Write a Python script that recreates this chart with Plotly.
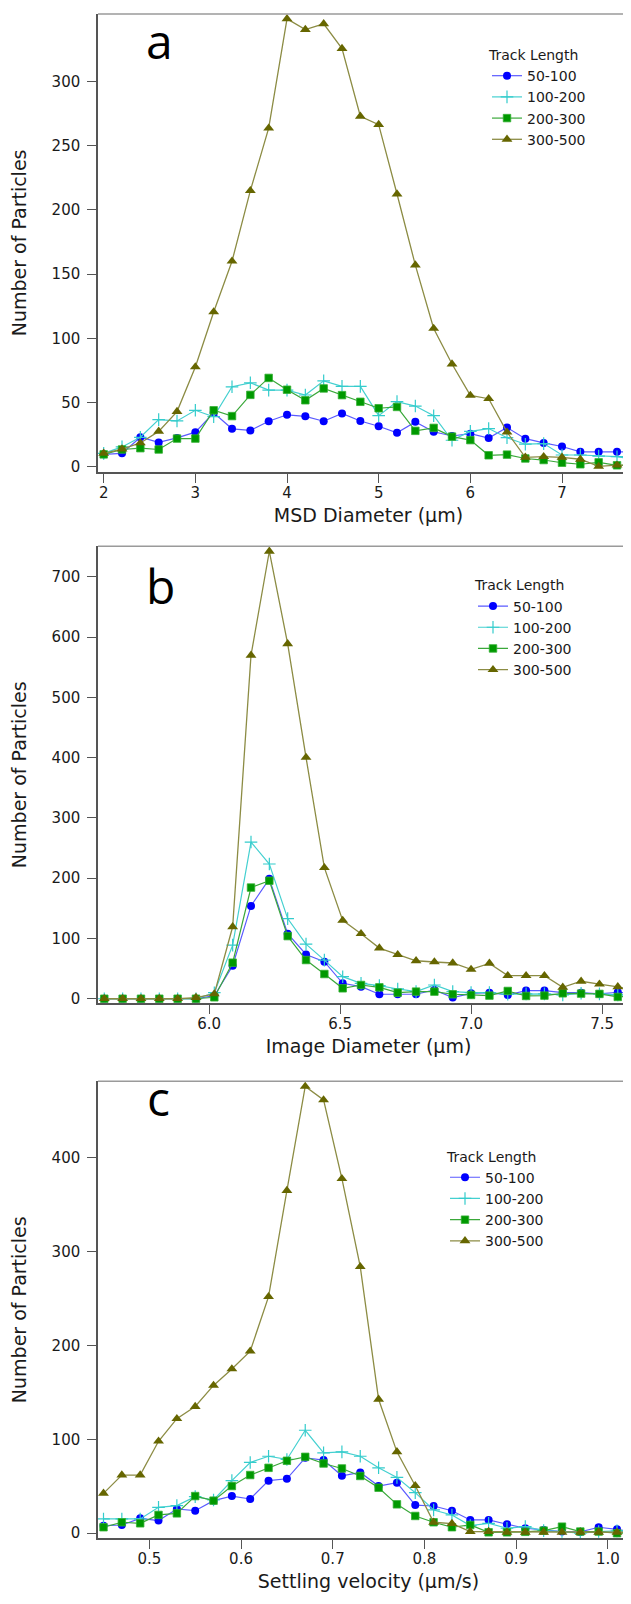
import plotly.graph_objects as go

# ---------------- data ----------------
series_names = ["50-100", "100-200", "200-300", "300-500"]

# Panel a: MSD Diameter (um)
msd_x = [2.0, 2.2, 2.4, 2.6, 2.8, 3.0, 3.2, 3.4, 3.6, 3.8, 4.0, 4.2, 4.4, 4.6, 4.8,
         5.0, 5.2, 5.4, 5.6, 5.8, 6.0, 6.2, 6.4, 6.6, 6.8, 7.0, 7.2, 7.4, 7.6, 7.8]
msd_50_100 = [9.7, 10.5, 23, 19, 22.5, 27, 42, 29.6, 28.3, 35.5, 40.5, 39.3, 35.5, 41.6, 35.7,
              31.6, 26.5, 35, 27.3, 24, 25.8, 22.4, 30.6, 21.9, 18.6, 15.8, 11.7, 11.7, 11.7, 11.7]
msd_100_200 = [10.5, 15.5, 23, 36.7, 35.7, 44, 39, 62.3, 65.4, 59.7, 59.7, 55.9, 66.9, 62.6, 62.6,
               39.8, 50.8, 47.3, 39.8, 20.7, 27.6, 29.8, 22.7, 17.6, 18.1, 9.2, 9.2, 8.4, 7.9, 5.9]
msd_200_300 = [9.7, 13.5, 14.5, 13.5, 22, 22, 44, 39.5, 56, 69.2, 60, 51.8, 61, 55.8, 50.6,
               45.6, 46.6, 28, 30.3, 23.5, 20.8, 9.0, 9.5, 6.5, 5.3, 3.2, 2, 3.5, 1.2, 1.2]
msd_300_500 = [10.5, 13.8, 18.6, 27.6, 43, 77.7, 120.5, 160, 214.9, 263.5, 348.6, 340.3, 344.7, 325.5, 272.8,
               266.3, 212.3, 157, 107.7, 80, 55.6, 53, 27, 7.4, 7.9, 7.4, 5.9, 0.3, 1.3, 1.3]

# Panel b: Image Diameter (um)
img_x = [5.60, 5.67, 5.74, 5.81, 5.88, 5.95, 6.02, 6.09, 6.16, 6.23, 6.30, 6.37, 6.44, 6.51, 6.58,
         6.65, 6.72, 6.79, 6.86, 6.93, 7.00, 7.07, 7.14, 7.21, 7.28, 7.35, 7.42, 7.49, 7.56, 7.63]
img_50_100 = [0, 0, 0, 0, 0, 0, 5, 54.8, 154, 199, 108, 73.4, 61.4, 25.6, 20,
              7.4, 7.4, 7.4, 14.6, 1.9, 9, 10.1, 6.3, 13.5, 13.5, 10.1, 10, 8, 10.7, 8.5]
img_100_200 = [0, 0, 0, 0, 0, 0, 10, 89, 260, 223.6, 133, 90.7, 64, 36.6, 25.6,
               21.7, 16.2, 11.8, 22.8, 11.8, 10.1, 10.1, 7.4, 8, 8, 6.3, 9, 8, 6.3, 6.3]
img_200_300 = [0, 0, 0, 0, 0, 0, 2.4, 59.8, 184.5, 195.8, 103.9, 64.2, 41, 17.3, 22.8,
               18.9, 10.1, 11.8, 11.8, 7.4, 6.3, 5.2, 12.9, 4.6, 5.2, 9, 8.5, 8, 3, 5.2]
img_300_500 = [0, 0, 0, 0, 0, 2, 8, 119.4, 570, 742.6, 589, 400.5, 217.5, 130, 108,
               84, 73, 63, 61, 59.3, 48.7, 58.7, 38.3, 38.3, 38.3, 19, 29, 24.2, 19.8, 14]

# Panel c: Settling velocity (um/s)
vel_x = [0.45, 0.47, 0.49, 0.51, 0.53, 0.55, 0.57, 0.59, 0.61, 0.63, 0.65, 0.67, 0.69, 0.71, 0.73,
         0.75, 0.77, 0.79, 0.81, 0.83, 0.85, 0.87, 0.89, 0.91, 0.93, 0.95, 0.97, 0.99, 1.01, 1.03]
vel_50_100 = [8.1, 8.8, 15.9, 13.5, 25.8, 24, 34.7, 39.6, 36.5, 56, 58, 80.4, 77.9, 61.2, 64.8,
              50.3, 53.8, 30, 29, 24, 14.2, 14.2, 9.6, 5.3, 3.5, 1.8, 1.4, 6.4, 4.2, 0.7]
vel_100_200 = [15.2, 15.2, 15.2, 27.6, 29.4, 39, 35.4, 56, 75.4, 82, 78.6, 109.7, 85.7, 86.7, 82,
               69.7, 59.5, 43.2, 24.8, 19.5, 8.1, 10.6, 5.3, 7, 2.8, 1.8, 0, 1.8, 2.5, 1.8]
vel_200_300 = [6.4, 11.7, 10.6, 19.5, 21.2, 39.6, 34.7, 50.3, 62, 69.7, 77.2, 81.4, 74.3, 69, 61,
               48.5, 30.8, 18.4, 11.7, 6.4, 8.8, 1, 1, 1.5, 2.8, 7, 1.8, 1.8, 0, 0.7]
vel_300_500 = [42.5, 62, 62, 98, 122, 135, 157.5, 175, 194, 252, 365, 476, 461.6, 377.7, 284,
               142.7, 86.7, 50.6, 11.7, 10.3, 1.8, 1.8, 1, 1, 1, 1, 1, 1, 1, 1]

panel_labels = ["a", "b", "c"]
x_titles = ["MSD Diameter (\u03bcm)", "Image Diameter (\u03bcm)", "Settling velocity (\u03bcm/s)"]
y_title = "Number of Particles"
legend_title = "Track Length"

x_ticks = [[2, 3, 4, 5, 6, 7], [6.0, 6.5, 7.0, 7.5], [0.5, 0.6, 0.7, 0.8, 0.9, 1.0]]
y_ticks = [[0, 50, 100, 150, 200, 250, 300], [0, 100, 200, 300, 400, 500, 600, 700],
           [0, 100, 200, 300, 400]]

panels = [
    (msd_x, [msd_50_100, msd_100_200, msd_200_300, msd_300_500]),
    (img_x, [img_50_100, img_100_200, img_200_300, img_300_500]),
    (vel_x, [vel_50_100, vel_100_200, vel_200_300, vel_300_500]),
]

# ---------------- styling ----------------
W, H = 631, 1604
FONT = "DejaVu Sans"

def py(px):
    return 1 - px / H

x_dom = [90 / W, 1.0]
y_doms = [[py(465.3), py(6)], [py(998.3), py(540)], [py(1535), py(1076.7)]]
x_ranges = [[1.938, 7.84], [5.576, 7.641], [0.444, 1.034]]
y_ranges = [[-3.9, 352.4], [-7.4, 750.8], [-5.3, 481.4]]
x_fmt = ["d", ".1f", ".1f"]
label_pos = [(151, 67), (152, 614), (150, 1128)]   # x centre, bottom of text box
legend_pos = [(479, 34), (465, 566), (437, 1139)]

styles = [
    dict(marker=dict(symbol="circle", size=8, color="#0000ff", line=dict(width=0)),
         line=dict(color="#5a5aff", width=1.2)),
    dict(marker=dict(symbol="cross-thin", size=9, color="#33cccc", line=dict(width=1.2, color="#33cccc")),
         line=dict(color="#44d0d0", width=1.2)),
    dict(marker=dict(symbol="square", size=7.5, color="#009900", line=dict(width=0.8, color="#33b033")),
         line=dict(color="#3aa83a", width=1.2)),
    dict(marker=dict(symbol="triangle-up", size=9.5, color="#666600", line=dict(width=0)),
         line=dict(color="#8c8c44", width=1.3)),
]

fig = go.Figure()
layout = dict(width=W, height=H, margin=dict(l=0, r=0, t=0, b=0),
              paper_bgcolor="white", plot_bgcolor="white",
              font=dict(family=FONT, color="#1a1a1a", size=15),
              showlegend=True)

annotations = []
shapes = []
for i, (xs, ys_list) in enumerate(panels):
    sfx = "" if i == 0 else str(i + 1)
    lg = "legend" if i == 0 else "legend" + str(i + 1)
    for name, ys, st in zip(series_names, ys_list, styles):
        fig.add_trace(go.Scatter(x=xs, y=ys, name=name, mode="lines+markers",
                                 xaxis="x" + sfx, yaxis="y" + sfx, legend=lg,
                                 marker=st["marker"], line=st["line"], cliponaxis=False))
    layout["xaxis" + sfx] = dict(
        domain=x_dom, range=x_ranges[i], anchor="y" + sfx,
        tickmode="array", tickvals=x_ticks[i], tickformat=x_fmt[i],
        ticks="outside", ticklen=9, tickwidth=1.2, tickcolor="#555555",
        showline=True, linecolor="#555555", linewidth=1.5, showgrid=False, zeroline=False,
        tickfont=dict(size=15, family=FONT), ticklabelstandoff=-3,
        title=dict(text=x_titles[i], font=dict(size=19, family=FONT), standoff=8),
    )
    layout["yaxis" + sfx] = dict(
        domain=y_doms[i], range=y_ranges[i], anchor="x" + sfx,
        tickmode="array", tickvals=y_ticks[i],
        ticks="outside", ticklen=9, tickwidth=1.2, tickcolor="#555555",
        showline=True, linecolor="#555555", linewidth=1.5, showgrid=False, zeroline=False,
        tickfont=dict(size=15, family=FONT), ticklabelstandoff=4,
        title=dict(text=y_title, font=dict(size=19, family=FONT), standoff=20),
    )
    shapes.append(dict(type="line", xref="x" + sfx + " domain", yref="y" + sfx + " domain",
                       x0=0, x1=1, y0=1, y1=1, line=dict(color="#9a9a9a", width=1.5)))
    lx, lb = label_pos[i]
    annotations.append(dict(text=panel_labels[i], x=lx / W, y=py(lb), xref="paper", yref="paper",
                            xanchor="center", yanchor="bottom", showarrow=False,
                            font=dict(family="Open Sans", size=48, color="black")))
    gx, gy = legend_pos[i]
    layout[lg] = dict(x=gx / W, y=py(gy), xanchor="left", yanchor="top",
                      bgcolor="rgba(0,0,0,0)", borderwidth=0, itemwidth=30,
                      font=dict(size=14, family=FONT, color="#1a1a1a"),
                      title=dict(text=legend_title, font=dict(size=14, family=FONT)),
                      tracegroupgap=0)

layout["annotations"] = annotations
layout["shapes"] = shapes
fig.update_layout(**layout)
fig.write_html("out.html")
